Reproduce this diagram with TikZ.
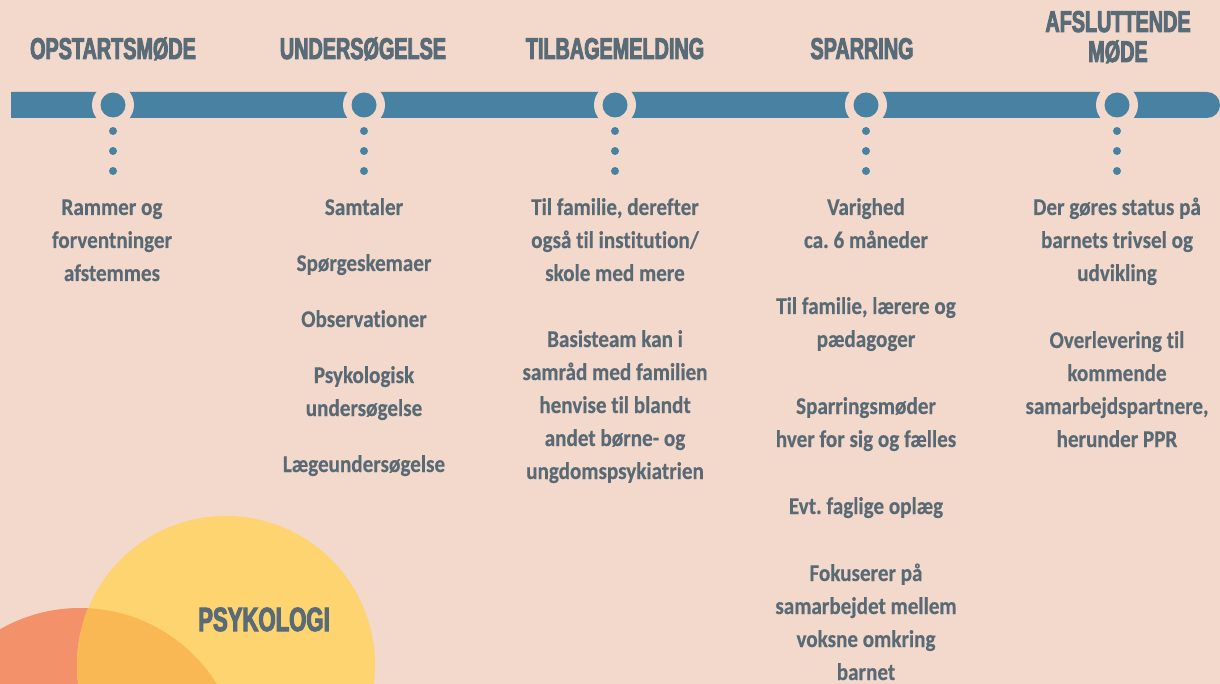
\documentclass[tikz,border=0pt]{standalone}
\usepackage{fontspec}
\setmainfont{Carlito}
\newfontfamily\titlefont[FakeStretch=0.66,FakeBold=3]{Liberation Sans}
\newfontfamily\bodyfont[FakeStretch=0.88,FakeBold=0.4,Ligatures={NoCommon}]{Carlito}
\definecolor{bgcol}{HTML}{F2D9CC}
\definecolor{barcol}{HTML}{4782A3}
\definecolor{titlecol}{HTML}{586B76}
\definecolor{bodycol}{HTML}{5A6A74}
\definecolor{yellowcol}{HTML}{FDD470}
\definecolor{orangecol}{HTML}{F3926A}
\definecolor{overlapcol}{HTML}{F9B853}
\frenchspacing
\newcommand\mycol[4]{%
  \foreach \t [count=\i from 0] in {#4} {\node[body] (#1-\i) at (#2, #3+33*\i) {\t};}}
\begin{document}
\begin{tikzpicture}[x=1pt,y=-1pt,
  title/.style={font=\titlefont\bfseries\fontsize{30}{30}\selectfont, text=titlecol, inner sep=0, anchor=base},
  body/.style={font=\bodyfont\bfseries\fontsize{24}{24}\selectfont, text=bodycol, inner sep=0, anchor=base},
  stopdot/.style={circle, fill=barcol, inner sep=0, minimum size=25},
  gapring/.style={circle, fill=bgcol, inner sep=0, minimum size=42},
  smalldot/.style={circle, fill=barcol, inner sep=0, minimum size=8}]
\useasboundingbox (0,0) rectangle (1220,684);
\clip (0,0) rectangle (1220,684);
\fill[bgcol] (0,0) rectangle (1220,684);
% circles bottom-left
\fill[orangecol] (80,769) circle[radius=161];
\fill[yellowcol] (226,665) circle[radius=149];
\begin{scope}
  \clip (80,769) circle[radius=161];
  \fill[overlapcol] (226,665) circle[radius=149];
\end{scope}
\node[font=\titlefont\bfseries\fontsize{33.5}{33.5}\selectfont, text=titlecol, inner sep=0, anchor=base] (psy) at (264,631) {PSYKOLOGI};
% bar
\fill[barcol] (11,92) -- (1207,92) arc[start angle=-90, end angle=90, radius=13] -- (11,118) -- cycle;
\foreach \x [count=\k] in {113,364,615,866,1117} {
  \node[gapring] (ring\k) at (\x,105) {};
  \node[stopdot] (stop\k) at (\x,105) {};
  \node[smalldot] (da\k) at (\x,131) {};
  \node[smalldot] (db\k) at (\x,151) {};
  \node[smalldot] (dc\k) at (\x,171) {};
}
% titles
\node[title] (t1) at (113,59) {OPSTARTSMØDE};
\node[title] (t2) at (363,59) {UNDERSØGELSE};
\node[title] (t3) at (615,59) {TILBAGEMELDING};
\node[title] (t4) at (862,59) {SPARRING};
\node[title] (t5a) at (1118,32) {AFSLUTTENDE};
\node[title] (t5b) at (1118,62) {MØDE};
% column texts
\mycol{a}{112}{215}{Rammer og, forventninger, afstemmes}
\mycol{ba}{364}{215}{Samtaler}
\mycol{bb}{364}{271}{Spørgeskemaer}
\mycol{bc}{364}{327}{Observationer}
\mycol{bd}{364}{383}{Psykologisk, undersøgelse}
\mycol{be}{364}{472}{Lægeundersøgelse}
\mycol{ca}{615}{215}{{Til familie, derefter}, også til institution/, skole med mere}
\mycol{cb}{615}{347}{Basisteam kan i, samråd med familien, henvise til blandt, andet børne- og, ungdomspsykiatrien}
\mycol{da}{866}{215}{Varighed, ca. 6 måneder}
\mycol{db}{866}{314}{{Til familie, lærere og}, pædagoger}
\mycol{dc}{866}{414}{Sparringsmøder, hver for sig og fælles}
\mycol{dd}{866}{514}{Evt. faglige oplæg}
\mycol{de}{866}{581}{Fokuserer på, samarbejdet mellem, voksne omkring, barnet}
\mycol{ea}{1117}{215}{Der gøres status på, barnets trivsel og, udvikling}
\mycol{eb}{1117}{348}{Overlevering til, kommende, {samarbejdspartnere,}, herunder PPR}
\end{tikzpicture}
\end{document}
